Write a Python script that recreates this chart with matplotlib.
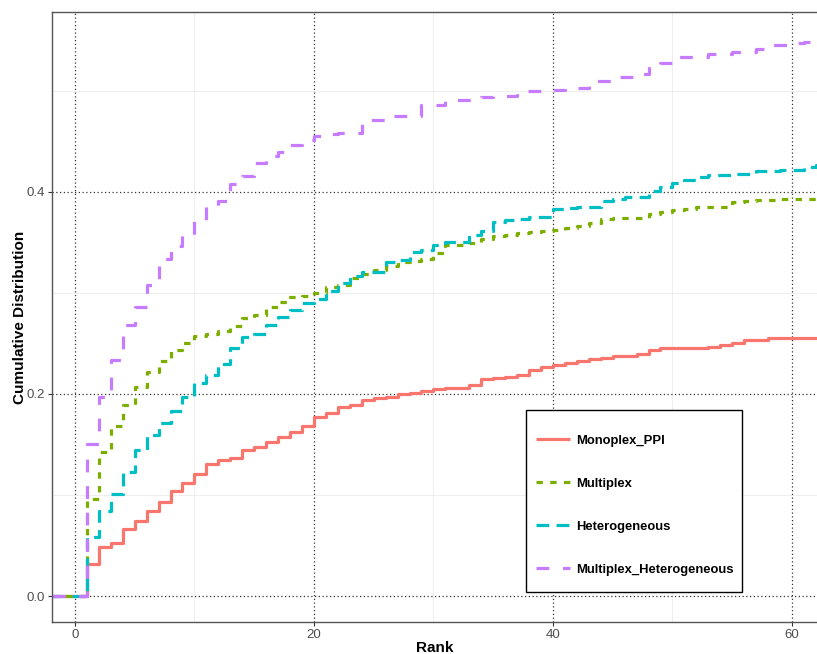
import numpy as np
import matplotlib
matplotlib.use('Agg')
import matplotlib.pyplot as plt
from matplotlib.ticker import MultipleLocator
from matplotlib.patches import Rectangle

plt.rcParams['font.family'] = ['Liberation Sans', 'DejaVu Sans']

# ranks 1..62, cumulative distribution after each rank
ranks = list(range(1, 63))

monoplex_ppi = [0.032, 0.049, 0.052, 0.066, 0.074, 0.084, 0.093, 0.104, 0.112, 0.121,
                0.131, 0.135, 0.137, 0.145, 0.147, 0.152, 0.157, 0.162, 0.168, 0.177,
                0.181, 0.187, 0.189, 0.194, 0.196, 0.197, 0.200, 0.201, 0.203, 0.205,
                0.206, 0.206, 0.209, 0.215, 0.216, 0.217, 0.219, 0.224, 0.227, 0.229,
                0.231, 0.233, 0.235, 0.236, 0.238, 0.238, 0.240, 0.243, 0.245, 0.245,
                0.245, 0.245, 0.246, 0.248, 0.250, 0.253, 0.253, 0.255, 0.255, 0.255,
                0.255, 0.255]

multiplex = [0.096, 0.143, 0.168, 0.189, 0.207, 0.222, 0.233, 0.243, 0.250, 0.257,
             0.259, 0.262, 0.267, 0.275, 0.278, 0.286, 0.291, 0.296, 0.297, 0.300,
             0.306, 0.308, 0.315, 0.319, 0.323, 0.327, 0.331, 0.332, 0.334, 0.339,
             0.347, 0.347, 0.349, 0.353, 0.356, 0.357, 0.359, 0.360, 0.361, 0.362,
             0.364, 0.366, 0.369, 0.373, 0.374, 0.374, 0.374, 0.378, 0.380, 0.382,
             0.383, 0.385, 0.385, 0.385, 0.390, 0.391, 0.392, 0.392, 0.393, 0.393,
             0.393, 0.394]

heterogeneous = [0.058, 0.084, 0.101, 0.123, 0.145, 0.159, 0.171, 0.183, 0.197, 0.211,
                 0.219, 0.230, 0.245, 0.256, 0.259, 0.268, 0.276, 0.283, 0.290, 0.294,
                 0.302, 0.310, 0.317, 0.321, 0.321, 0.331, 0.333, 0.340, 0.342, 0.347,
                 0.350, 0.350, 0.357, 0.361, 0.370, 0.372, 0.373, 0.375, 0.375, 0.383,
                 0.384, 0.385, 0.385, 0.391, 0.393, 0.395, 0.395, 0.401, 0.405, 0.409,
                 0.412, 0.415, 0.417, 0.417, 0.418, 0.418, 0.421, 0.421, 0.422, 0.422,
                 0.425, 0.427]

multiplex_het = [0.150, 0.197, 0.234, 0.268, 0.286, 0.308, 0.334, 0.346, 0.357, 0.372,
                 0.386, 0.391, 0.408, 0.416, 0.429, 0.435, 0.439, 0.446, 0.451, 0.455,
                 0.457, 0.458, 0.458, 0.471, 0.471, 0.475, 0.475, 0.475, 0.486, 0.486,
                 0.491, 0.491, 0.491, 0.494, 0.495, 0.495, 0.500, 0.500, 0.500, 0.501,
                 0.503, 0.503, 0.510, 0.510, 0.514, 0.514, 0.517, 0.526, 0.528, 0.533,
                 0.533, 0.533, 0.536, 0.536, 0.538, 0.538, 0.541, 0.545, 0.545, 0.547,
                 0.548, 0.548]

labels = ['Monoplex_PPI', 'Multiplex', 'Heterogeneous', 'Multiplex_Heterogeneous']
colors = ['#F8766D', '#7CAE00', '#00BFC4', '#C77CFF']
dashes = [None, (2.0, 2.3), (4.0, 2.3), (4.0, 4.3)]
series = [monoplex_ppi, multiplex, heterogeneous, multiplex_het]

xmin, xmax = -1.92, 62.1
ymin, ymax = -0.0257, 0.578

fig = plt.figure(figsize=(8.17, 6.54), dpi=100)
ax = fig.add_axes([52 / 817, 32 / 654, 765 / 817, 610 / 654])

for vals, lab, col, d in zip(series, labels, colors, dashes):
    x = [xmin] + ranks + [ranks[-1] + 2]
    y = [0.0] + vals + [vals[-1]]
    line, = ax.step(x, y, where='post', color=col, lw=2.3, label=lab,
                    solid_capstyle='butt', dash_capstyle='butt')
    if d is not None:
        line.set_dashes(d)

ax.set_xlim(xmin, xmax)
ax.set_ylim(ymin, ymax)
ax.xaxis.set_major_locator(MultipleLocator(20))
ax.xaxis.set_minor_locator(MultipleLocator(10))
ax.yaxis.set_major_locator(MultipleLocator(0.2))
ax.yaxis.set_minor_locator(MultipleLocator(0.1))
ax.yaxis.set_major_formatter(matplotlib.ticker.FormatStrFormatter('%.1f'))

ax.set_axisbelow(True)
ax.grid(which='minor', color='#ebebeb', lw=0.6, linestyle='-')
ax.grid(which='major', color='#333333', lw=0.9, linestyle=(0, (1, 2)))

for s in ['top', 'left', 'bottom']:
    ax.spines[s].set_color('#555555')
    ax.spines[s].set_linewidth(1.0)
ax.spines['right'].set_visible(False)

ax.tick_params(which='major', length=3, color='#333333', labelcolor='#4d4d4d',
               labelsize=9.5, pad=2)
ax.tick_params(which='minor', length=0)

ax.set_xlabel('Rank', fontsize=11, fontweight='bold', labelpad=0)
ax.set_ylabel('Cumulative Distribution', fontsize=11, fontweight='bold', labelpad=0)

# legend frame drawn separately so the entries can be spaced like ggplot keys
frame = Rectangle((0.6196, 0.049), 0.2824, 0.298, transform=ax.transAxes,
                  facecolor='white', edgecolor='black', lw=1.0, zorder=4.5)
ax.add_patch(frame)
leg = ax.legend(loc='upper left', bbox_to_anchor=(0.6327, 0.3074), borderaxespad=0,
                prop={'weight': 'bold', 'size': 9.4}, frameon=False,
                handlelength=2.6, handletextpad=0.45, labelspacing=2.37, borderpad=0)
leg.set_zorder(5)

fig.savefig('out.png', dpi=100)
